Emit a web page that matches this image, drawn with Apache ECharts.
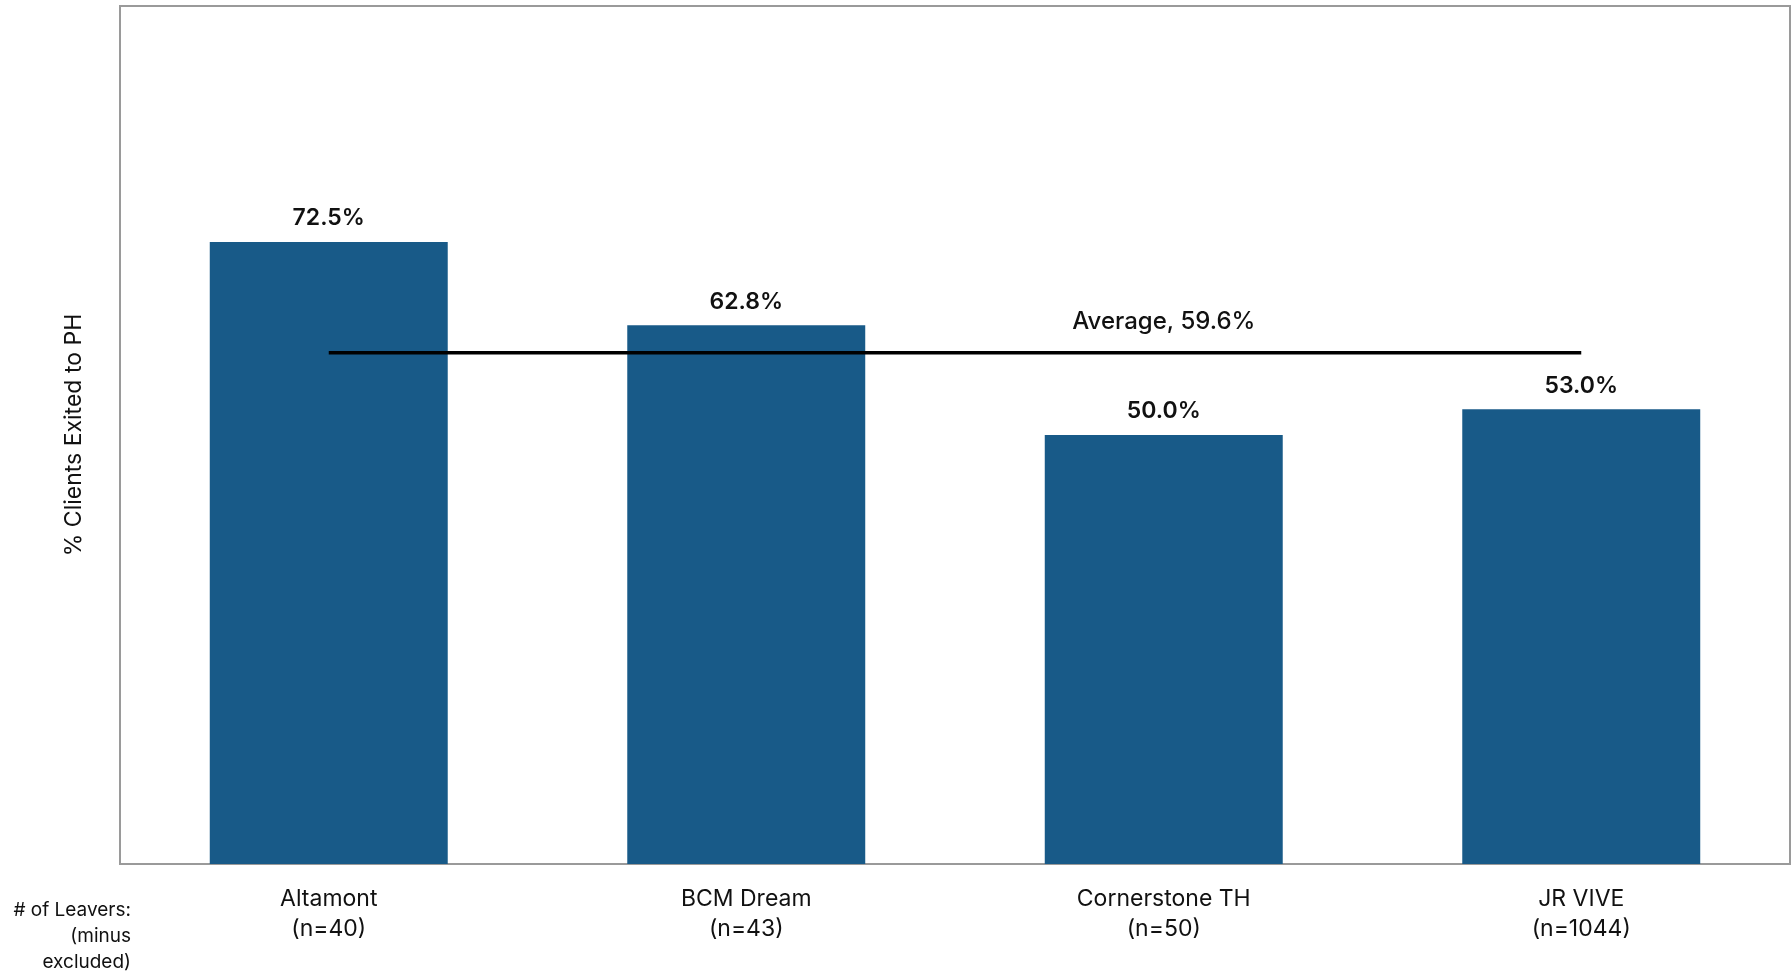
<!DOCTYPE html>
<html><head><meta charset="utf-8">
<script src="https://cdn.jsdelivr.net/npm/echarts@6/dist/echarts.min.js"></script>
<style>html,body{margin:0;padding:0;background:#fff}#c{width:1792px;height:974px}</style>
</head><body><div id="c"></div>
<script>
const categories = ['Altamont', 'BCM Dream', 'Cornerstone TH', 'JR VIVE'];
const leavers = [40, 43, 50, 1044];
const pctExited = [72.5, 62.8, 50.0, 53.0];
const averageValue = 59.6;
const averageLabel = 'Average, 59.6%';
const yAxisTitle = '% Clients Exited to PH';
const leftNote = ['# of Leavers:', '(minus', 'excluded)'];

const FONT = 'Inter, "Noto Sans", sans-serif';
const chart = echarts.init(document.getElementById('c'));
chart.setOption({
  animation: false,
  grid: { left: 120, right: 2, top: 6, bottom: 110, show: true, borderColor: '#9a9a9a', borderWidth: 2, backgroundColor: 'transparent' },
  xAxis: {
    type: 'category',
    data: categories.map((c, i) => c + '\n(n=' + leavers[i] + ')'),
    axisLine: { show: false }, axisTick: { show: false },
    axisLabel: { color: '#111', fontFamily: FONT, fontSize: 23, lineHeight: 30, margin: 20 }
  },
  yAxis: {
    type: 'value', min: 0, max: 100,
    axisLine: { show: false }, axisTick: { show: false }, axisLabel: { show: false }, splitLine: { show: false },
    name: yAxisTitle, nameLocation: 'middle', nameGap: 34, nameRotate: 90,
    nameTextStyle: { color: '#111', fontFamily: FONT, fontSize: 23 }
  },
  series: [
    {
      type: 'bar', data: pctExited, barWidth: '57%',
      itemStyle: { color: '#185a88' },
      label: { show: true, position: 'top', distance: 12, color: '#111', fontFamily: FONT, fontSize: 23, fontWeight: 600,
        formatter: p => p.value.toFixed(1) + '%' }
    },
    {
      type: 'line', data: categories.map(() => averageValue), symbol: 'circle', symbolSize: 0, showSymbol: true,
      lineStyle: { color: '#000', width: 3.5 }, z: 5,
      label: { show: true, position: 'top', distance: 19, color: '#111', fontFamily: FONT, fontSize: 24, fontWeight: 500,
        formatter: p => p.dataIndex === 2 ? averageLabel : '' }
    }
  ],
  graphic: [{
    type: 'text', x: 131, y: 897,
    style: { text: leftNote.join('\n'), textAlign: 'right', align: 'right', fill: '#111', font: '19px ' + FONT, lineHeight: 26 }
  }]
});
</script></body></html>
